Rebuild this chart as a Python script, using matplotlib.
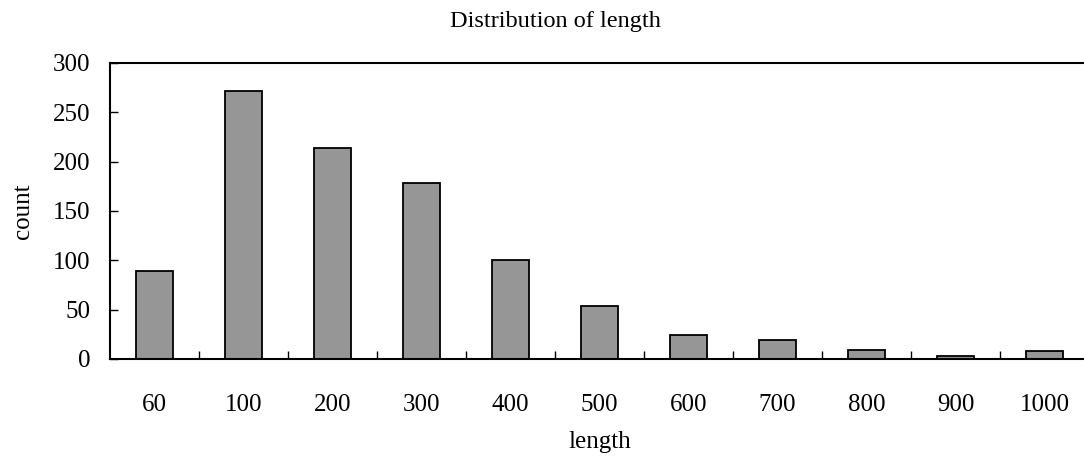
import matplotlib
matplotlib.use("Agg")
import matplotlib.pyplot as plt
import numpy as np

# data
lengths = ["60", "100", "200", "300", "400", "500", "600", "700", "800", "900", "1000"]
counts = [89, 272, 214, 178, 100, 54, 24, 19, 9, 3, 8]

plt.rcParams['font.family'] = ['Liberation Serif', 'DejaVu Serif']

fig = plt.figure(figsize=(10.84, 4.59), dpi=100)
ax = fig.add_axes([0.1015, 0.2179, 0.9031, 0.6449])

pos = np.arange(len(lengths))
ax.bar(pos, counts, width=0.42, color='#969696', edgecolor='black', linewidth=1.3)

ax.set_xlim(-0.5, len(lengths) - 0.5)
ax.set_ylim(0, 300)
ax.set_yticks(range(0, 301, 50))

# labels sit at category centers, tick marks at category boundaries
ax.set_xticks(pos)
ax.set_xticklabels(lengths)
ax.set_xticks(pos[:-1] + 0.5, minor=True)
ax.tick_params(axis='x', which='major', length=0, pad=25, labelsize=18)
ax.tick_params(axis='x', which='minor', direction='in', length=6, width=1)
ax.tick_params(axis='y', direction='in', length=6, width=1, pad=14, labelsize=18)

for side in ['left', 'top', 'bottom']:
    ax.spines[side].set_linewidth(1.5)
ax.spines['right'].set_visible(False)

ax.set_xlabel('length', fontsize=18, labelpad=11)
ax.set_ylabel('count', fontsize=18, labelpad=14)
fig.text(555 / 1084, 1 - 21 / 459, 'Distribution of length', ha='center', va='center', fontsize=17.5)

fig.savefig('out.png', dpi=100)
